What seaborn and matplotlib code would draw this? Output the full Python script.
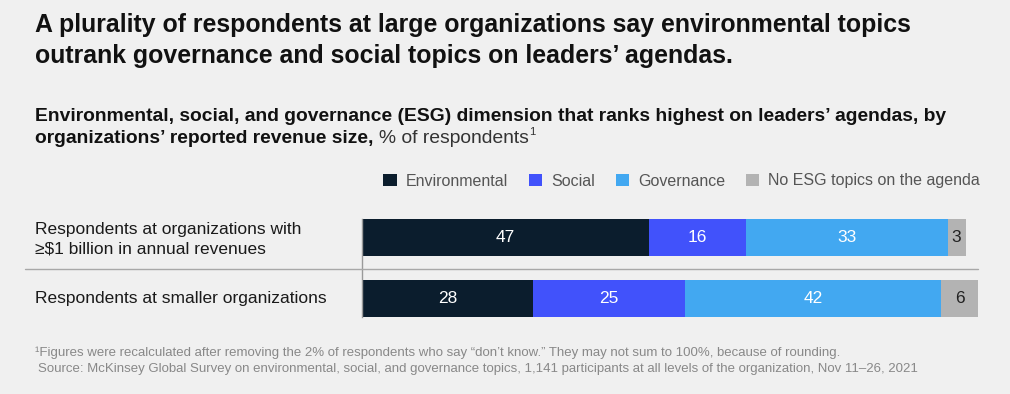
import matplotlib
matplotlib.use('Agg')
import matplotlib.pyplot as plt
from matplotlib.lines import Line2D
from matplotlib.patches import Patch
import seaborn as sns
import pandas as pd

# data
groups = ['Respondents at organizations with\n≥$1 billion in annual revenues',
          'Respondents at smaller organizations']
series = ['Environmental', 'Social', 'Governance', 'No ESG topics on the agenda']
environmental = [47, 28]
social = [16, 25]
governance = [33, 42]
no_esg = [3, 6]
colors = ['#0b1d2d', '#4152fb', '#42a8f1', '#b3b3b3']

df = pd.DataFrame({'group': groups, 'Environmental': environmental, 'Social': social,
                   'Governance': governance, 'No ESG topics on the agenda': no_esg})
cum = df[series].cumsum(axis=1)
cum['group'] = df['group']

W, H = 1010, 394
bg = '#f0f0f0'
sns.set_theme(style='white')
plt.rcParams['font.family'] = ['Liberation Sans', 'DejaVu Sans']

fig = plt.figure(figsize=(W / 100, H / 100), dpi=100, facecolor=bg)


def fx(px):
    return px / W


def fy(py):
    return 1 - py / H


ax = fig.add_axes([fx(362), fy(317), fx(978) - fx(362), fy(219) - fy(317)])
ax.set_facecolor(bg)

# stacked bars: draw cumulative totals from the widest down
for s, c in reversed(list(zip(series, colors))):
    sns.barplot(data=cum, x=s, y='group', orient='h', color=c, saturation=1,
                width=0.607, ax=ax, linewidth=0)

for i in range(len(df)):
    for j, s in enumerate(series):
        v = df.loc[i, s]
        mid = cum.loc[i, s] - v / 2
        ax.text(mid, i, str(v), ha='center', va='center', fontsize=12.5,
                color='white' if j < 3 else '#222222')

ax.set_xlim(0, 101)
ax.set_ylim(1 + 0.3033, -0.3033)
ax.set_xlabel('')
ax.set_ylabel('')
ax.set_xticks([])
ax.set_yticks([])
for sp in ['top', 'right', 'bottom']:
    ax.spines[sp].set_visible(False)
ax.spines['left'].set_color('#9a9a9a')
ax.spines['left'].set_linewidth(1)

# category labels
fig.text(fx(35), fy(239), groups[0], ha='left', va='center', fontsize=12.5,
         color='#1a1a1a', linespacing=1.4)
fig.text(fx(35), fy(298.5), groups[1], ha='left', va='center', fontsize=12.5,
         color='#1a1a1a')

# separator line
fig.add_artist(Line2D([fx(25), fx(978)], [fy(269), fy(269)], color='#a8a8a8', lw=1))

# title
fig.text(fx(35), fy(32), 'A plurality of respondents at large organizations say environmental topics',
         fontsize=17.9, fontweight='bold', color='#111111', va='baseline')
fig.text(fx(35), fy(62.5), 'outrank governance and social topics on leaders’ agendas.',
         fontsize=17.9, fontweight='bold', color='#111111', va='baseline')

# subtitle
fig.text(fx(35), fy(121),
         'Environmental, social, and governance (ESG) dimension that ranks highest on leaders’ agendas, by',
         fontsize=13.9, fontweight='bold', color='#111111', va='baseline')
t1 = fig.text(fx(35), fy(143.5), 'organizations’ reported revenue size, ',
              fontsize=13.9, fontweight='bold', color='#111111', va='baseline')
fig.canvas.draw()
r = fig.canvas.get_renderer()
x1 = t1.get_window_extent(r).x1
t2 = fig.text(x1 / W, fy(143.5), '% of respondents', fontsize=13.9, color='#333333', va='baseline')
x2 = t2.get_window_extent(r).x1
fig.text(x2 / W, fy(135), '1', fontsize=8, color='#333333', va='baseline')

# legend
handles = [Patch(facecolor=c, edgecolor='none', label=s) for s, c in zip(series, colors)]
fig.legend(handles=handles, loc='center right', bbox_to_anchor=(fx(980), fy(181)),
           ncol=4, frameon=False, fontsize=11.5, labelcolor='#555555',
           handlelength=0.85, handleheight=0.85, handletextpad=0.55, columnspacing=1.3,
           borderaxespad=0, borderpad=0)

# footnotes
fig.text(fx(35), fy(356), '¹Figures were recalculated after removing the 2% of respondents who say “don’t know.” '
         'They may not sum to 100%, because of rounding.', fontsize=9.5, color='#888888', va='baseline')
fig.text(fx(38), fy(372), 'Source: McKinsey Global Survey on environmental, social, and governance topics, '
         '1,141 participants at all levels of the organization, Nov 11–26, 2021',
         fontsize=9.5, color='#888888', va='baseline')

fig.savefig('out.png', dpi=100, facecolor=bg)
